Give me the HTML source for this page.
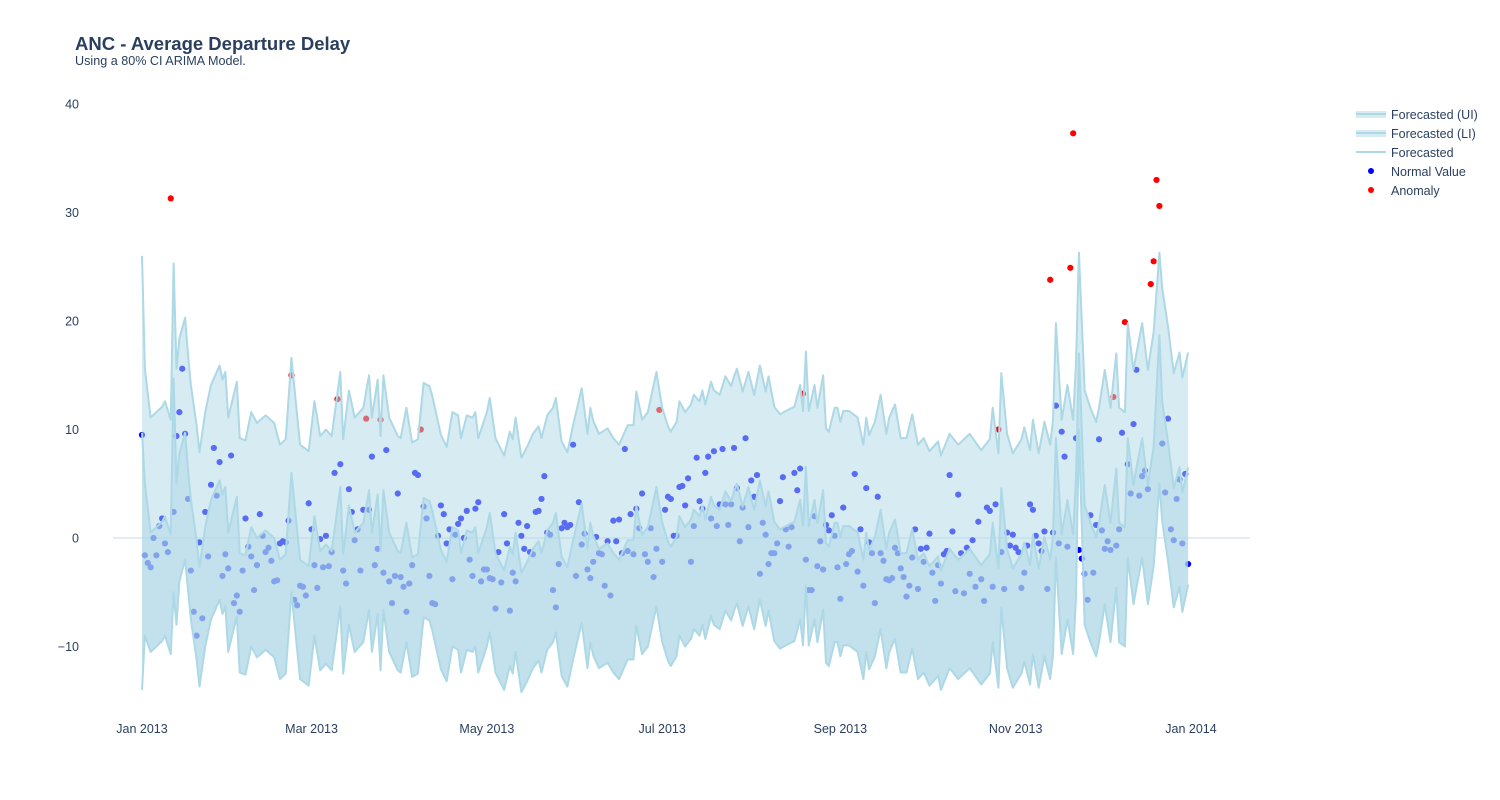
<!DOCTYPE html>
<html><head><meta charset="utf-8">
<style>
body{margin:0;background:#fff;font-family:"Liberation Sans",Arial,sans-serif;}
#wrap{position:relative;width:1500px;height:800px;overflow:hidden;}
svg text{font-family:"Liberation Sans",Arial,sans-serif;fill:#2a3f5f;}
</style></head>
<body>
<div id="wrap">
<svg id="chart" width="1500" height="800">
  <text x="75" y="50" font-size="18.5" font-weight="bold">ANC - Average Departure Delay</text>
  <text x="75" y="65" font-size="12.6">Using a 80% CI ARIMA Model.</text>
  <g id="grid"></g><g id="pts"></g><g id="bands"></g><g id="axes"></g>
  <g id="legend">
    <g><rect x="1356" y="111" width="30" height="7" fill="rgba(173,216,230,0.5)"/><line x1="1356" x2="1386" y1="114" y2="114" stroke="lightblue" stroke-width="2"/><text x="1391" y="119" font-size="12.5">Forecasted (UI)</text></g>
    <g><rect x="1356" y="130" width="30" height="7" fill="rgba(173,216,230,0.5)"/><line x1="1356" x2="1386" y1="133" y2="133" stroke="lightblue" stroke-width="2"/><text x="1391" y="138" font-size="12.5">Forecasted (LI)</text></g>
    <g><line x1="1356" x2="1386" y1="152" y2="152" stroke="lightblue" stroke-width="2"/><text x="1391" y="157" font-size="12.5">Forecasted</text></g>
    <g><circle cx="1371" cy="171" r="3" fill="blue"/><text x="1391" y="176" font-size="12.5">Normal Value</text></g>
    <g><circle cx="1371" cy="190" r="3" fill="red"/><text x="1391" y="195" font-size="12.5">Anomaly</text></g>
  </g>
</svg>
</div>
<script>
const bandDay=[0,1,3,5,7,8,10,11,12,13,15,16,17,19,20,22,24,27,28,29,30,33,34,36,38,40,43,46,48,50,52,55,58,60,62,64,66,69,70,72,74,77,79,80,82,83,84,86,89,90,92,94,96,98,100,101,104,106,108,110,111,113,115,116,117,120,121,123,126,128,129,130,132,134,136,138,139,141,143,144,146,148,150,153,155,156,157,159,162,164,166,169,171,172,174,176,179,181,183,184,186,187,189,191,192,194,195,196,198,199,201,203,205,206,207,209,211,213,215,217,218,220,222,224,227,229,230,231,232,234,235,237,238,239,241,242,243,244,246,249,251,252,253,255,257,259,260,262,264,266,268,270,272,274,277,278,281,284,288,292,295,296,298,299,301,303,306,307,309,310,312,314,316,317,318,320,322,324,325,326,328,330,332,333,335,337,339,340,342,343,345,346,348,350,352,354,355,357,359,361,362,364];
const forecast=[9.7,5,0.5,1,1.5,2,0.3,14.7,5,7.8,9.7,6.3,3.5,-0.2,-2.7,1,3.5,5.3,4,4.7,0.5,3.8,-1.4,-1.6,1,0,0.7,0,-2,-1.5,6,-2,-2.6,2,-1.2,-0.6,-1.2,4.7,-1.5,3,0.5,1.4,4.4,0.5,4,-1.2,4.4,0.5,-1.2,-1.4,1.4,-1.8,-1.5,3.7,3.4,2.5,-1.1,-2.2,1,0.7,-1.4,0.7,0.5,1,-1.4,1,2.3,-1.4,-3,-0.8,-1.5,0.5,-3.2,-2.2,-1,-0.3,-1.4,0.7,1.4,2.3,-1.7,-2.7,-0.2,3.2,-1,1.4,0.2,-1,-0.5,-1.4,-2,-0.2,-0.2,2.9,0.3,1,4.7,1.4,-0.3,-0.8,0.1,2,1,1.7,2.6,2,3,1.7,3.8,3,2.6,4.3,3.4,4.3,5,2.9,4.7,2.6,5.3,2.9,4.3,1.5,0.8,1.1,1.5,3.5,1.1,6.6,1.1,3.5,1.4,4.4,-0.5,-0.8,1.4,1.4,0.1,1.1,1.1,0.5,-2,0.5,-1.1,0.1,2.6,-1,0.5,1.7,-1.4,-1.4,0.8,-2,-1.4,-2.6,-1.7,-3,-1,-2,-1,-2.5,-1.5,1.4,-2.8,4.6,-1,-2.8,-1.5,-0.4,-2.5,0.3,-2.8,0.1,-2,0.3,9.2,0.3,3.5,0.3,5.6,17,3,1.4,0.1,1.4,4.9,1.4,6.4,1.4,1,9.2,4.9,6.4,9.2,4.9,8.4,18.7,12.5,8.9,4.6,6.5,4.2,6.5];
const upper=[26,15.6,11.1,11.6,12.1,12.6,10.9,25.3,15.6,18.4,20.3,16.9,14.1,10.4,7.9,11.6,14.1,15.9,14.6,15.3,11.1,14.4,9.2,9,11.6,10.6,11.3,10.6,8.6,9.1,16.6,8.6,8,12.6,9.4,10,9.4,15.3,9.1,13.6,11.1,12,15,11.1,14.6,9.4,15,11.1,9.4,9.2,12,8.8,9.1,14.3,14,13.1,9.5,8.4,11.6,11.3,9.2,11.3,11.1,11.6,9.2,11.6,12.9,9.2,7.6,9.8,9.1,11.1,7.4,8.4,9.6,10.3,9.2,11.3,12,12.9,8.9,7.9,10.4,13.8,9.6,12,10.8,9.6,10.1,9.2,8.6,10.4,10.4,13.5,10.9,11.6,15.3,12,10.3,9.8,10.7,12.6,11.6,12.3,13.2,12.6,13.6,12.3,14.4,13.6,13.2,14.9,14,14.9,15.6,13.5,15.3,13.2,15.9,13.5,14.9,12.1,11.4,11.7,12.1,14.1,11.7,17.2,11.7,14.1,12,15,10.1,9.8,12,12,10.7,11.7,11.7,11.1,8.6,11.1,9.5,10.7,13.2,9.6,11.1,12.3,9.2,9.2,11.4,8.6,9.2,8,8.9,7.6,9.6,8.6,9.6,8.1,9.1,12,7.8,15.2,9.6,7.8,9.1,10.2,8.1,10.9,7.8,10.7,8.6,10.9,19.8,10.9,14.1,10.9,16.2,26.3,13.6,12,10.7,12,15.5,12,17,12,11.6,19.8,15.5,17,19.8,15.5,19,26.3,23,19.5,15.2,17.1,14.8,17.1];
const lower=[-14,-9,-10.5,-10,-9.5,-9,-10.7,-5,-8,-4,-2,-4.7,-7.5,-11.2,-13.7,-10,-7.5,-5.7,-7,-6.3,-10.5,-7.2,-12.4,-12.6,-10,-11,-10.3,-11,-13,-12.5,-5,-13,-13.6,-9,-12.2,-11.6,-12.2,-6.3,-12.5,-8,-10.5,-9.6,-6.6,-10.5,-7,-12.2,-6.6,-10.5,-12.2,-12.4,-9.6,-12.8,-12.5,-7.3,-7.6,-8.5,-12.1,-13.2,-10,-10.3,-12.4,-10.3,-10.5,-10,-12.4,-10,-8.7,-12.4,-14,-11.8,-12.5,-10.5,-14.2,-13.2,-12,-11.3,-12.4,-10.3,-9.6,-8.7,-12.7,-13.7,-11.2,-7.8,-12,-9.6,-10.8,-12,-11.5,-12.4,-13,-11.2,-11.2,-8.1,-10.7,-10,-6.3,-9.6,-11.3,-11.8,-10.9,-9,-10,-9.3,-8.4,-9,-8,-9.3,-7.2,-8,-8.4,-6.7,-7.6,-6.7,-6,-8.1,-6.3,-8.4,-5.7,-8.1,-6.7,-9.5,-10.2,-9.9,-9.5,-7.5,-9.9,-4.4,-9.9,-7.5,-9.6,-6.6,-11.5,-11.8,-9.6,-9.6,-10.9,-9.9,-9.9,-10.5,-13,-10.5,-12.1,-10.9,-8.4,-12,-10.5,-9.3,-12.4,-12.4,-10.2,-13,-12.4,-13.6,-12.7,-14,-12,-13,-12,-13.5,-12.5,-9.6,-13.8,-6.4,-12,-13.8,-12.5,-11.4,-13.5,-10.7,-13.8,-10.9,-13,-10.7,-1.8,-10.7,-7.5,-10.7,-5.4,10,-8,-9.6,-10.9,-9.6,-6.1,-9.6,-4.6,-9.6,-10,-1.8,-6.1,-4.6,-1.8,-6.1,-2.6,5,1.5,-2.1,-6.4,-4.5,-6.8,-4.3];
const actual=[9.5,-1.6,-2.3,-2.7,0,-1.6,1.1,1.8,-0.5,-1.3,31.3,2.4,9.4,11.6,15.6,9.6,3.6,-3,-6.8,-9,-0.4,-7.4,2.4,-1.7,4.9,8.3,3.9,7,-3.5,-1.5,-2.8,7.6,-6,-5.3,-6.8,-3,1.8,-0.8,-1.7,-4.8,-2.5,2.2,0.2,-1.3,-0.9,-2.1,-4,-3.9,-0.5,-0.3,-0.4,1.6,15,-5.7,-6.2,-4.4,-4.5,-5.3,3.2,0.8,-2.5,-4.6,-0.1,-2.7,0.2,-2.6,-1.3,6,12.8,6.8,-3,-4.2,4.5,2.4,-0.2,0.8,-3,2.6,11,2.6,7.5,-2.5,-1,10.9,-3.2,8.1,-4,-6,-3.5,4.1,-3.6,-4.5,-6.8,-4.2,-2.5,6,5.8,10,2.9,1.8,-3.5,-6,-6.1,0.2,3,2.2,-0.5,0.8,-3.8,0.3,1.3,1.8,0,2.5,-2,-3.5,2.7,3.3,-4,-2.9,-2.9,-3.7,-3.8,-6.5,-1.3,-4.1,2.2,-0.5,-6.7,-3.2,-4,1.4,0.2,-1,1.1,-1.3,-1.5,2.4,2.5,3.6,5.7,0.5,0.3,-4.8,-6.4,-2.4,0.9,1.4,1,1.2,8.6,-3.5,3.3,-0.6,0.4,-2.9,-3.7,-2.2,0.1,-1.4,-1.5,-4.4,-0.3,-5.3,1.6,-0.3,1.7,-1.4,8.2,-1.2,2.2,-1.5,2.7,0.9,4.1,-1.5,-2.2,0.9,-3.6,-1,11.8,-2.2,2.6,3.8,3.6,0.2,0.2,4.7,4.8,3,5.5,-2.2,1.1,7.4,3.4,2.7,6,7.5,1.8,8,1.1,3.1,8.2,3.1,1.2,3.1,8.3,4.6,-0.3,2.8,9.2,1,5.3,3.8,5.8,-3.3,1.4,0.3,-2.4,-1.4,-1.4,-0.5,3.4,5.6,0.8,-0.8,1.0,6,4.4,6.4,13.3,-2,-4.8,-4.8,2,-2.6,-0.3,-2.9,1.2,0.7,2.1,0.2,-2.7,-5.6,2.8,-2.4,-1.5,-1.2,5.9,-3.1,0.8,-4.4,4.6,-0.4,-1.4,-6,3.8,-1.4,-2.1,-3.8,-3.9,-3.7,-0.9,-1.4,-2.8,-3.6,-5.4,-4.4,-1.8,0.8,-4.7,-1,-2.2,-0.9,0.4,-3.2,-5.8,-2.5,-4.2,-1.5,-1.2,5.8,0.6,-4.9,4,-1.4,-5.1,-0.9,-3.3,-0.2,-4.5,1.5,-3.8,-5.8,2.8,2.5,-4.5,3.1,10,-1.3,-4.7,0.5,-0.7,0.3,-0.9,-1.3,-4.6,-3.2,-0.7,3.1,2.6,0.2,-0.5,-1.2,0.6,-4.7,23.8,0.5,12.2,-0.5,9.8,7.5,-0.8,24.9,37.3,9.2,-1.1,-1.9,-3.3,-5.7,2.1,-3.2,1.2,9.1,0.7,-1,-0.3,-1.1,13,-0.7,0.8,9.7,19.9,6.8,4.1,10.5,15.5,3.9,5.7,6.2,4.5,23.4,25.5,33,30.6,8.7,4.2,11,0.8,-0.2,3.6,5.4,-0.5,5.9,-2.4];
const anomalyDays=[10,52,68,78,83,97,180,230,298,316,323,324,338,342,351,352,353,354];
const yTicks=[40,30,20,10,0,-10];
const xTickLabels=["Jan 2013","Mar 2013","May 2013","Jul 2013","Sep 2013","Nov 2013","Jan 2014"];
const xTickDays=[0,59,120,181,243,304,365];

const NS="http://www.w3.org/2000/svg";
const X=d=>142+d*(1191-142)/365;
const Y=v=>538-v*10.85;
function mk(tag,attrs,parent){const e=document.createElementNS(NS,tag);for(const k in attrs)e.setAttribute(k,attrs[k]);parent.appendChild(e);return e;}
const grid=document.getElementById('grid'),pts=document.getElementById('pts'),bands=document.getElementById('bands'),axes=document.getElementById('axes');

const zl=mk('line',{x1:113,x2:1250,y1:Y(0),y2:Y(0),stroke:'#e5ecf3','stroke-width':2},grid);



yTicks.forEach(v=>{
  const t=mk('text',{x:79,y:Y(v)+4.5,'font-size':12.5,'text-anchor':'end'},axes);
  t.textContent=v<0?'\u2212'+Math.abs(v):String(v);
  
  
});
xTickLabels.forEach((s,i)=>{
  const t=mk('text',{x:X(xTickDays[i]),y:733,'font-size':12.5,'text-anchor':'middle'},axes);
  t.textContent=s;
  
  
});

actual.forEach((v,d)=>{
  const c=mk('circle',{cx:X(d),cy:Y(v),r:3.1,fill:anomalyDays.includes(d)?'red':'blue'},pts);
  
  
});

const up=bandDay.map((d,i)=>X(d)+','+Y(upper[i]));
const lo=bandDay.map((d,i)=>X(d)+','+Y(lower[i]));
const fc=bandDay.map((d,i)=>X(d)+','+Y(forecast[i]));
const p1=mk('polygon',{points:up.concat(lo.slice().reverse()).join(' '),fill:'rgba(173,216,230,0.5)'},bands);


const p2=mk('polygon',{points:lo.concat(fc.slice().reverse()).join(' '),fill:'rgba(173,216,230,0.5)'},bands);


[[up,'upper-line'],[lo,'lower-line'],[fc,'forecast-line']].forEach(([p,n])=>{
  const l=mk('polyline',{points:p.join(' '),fill:'none',stroke:'lightblue','stroke-width':2,'stroke-linejoin':'round'},bands);
  
  
});
</script>
</body></html>
